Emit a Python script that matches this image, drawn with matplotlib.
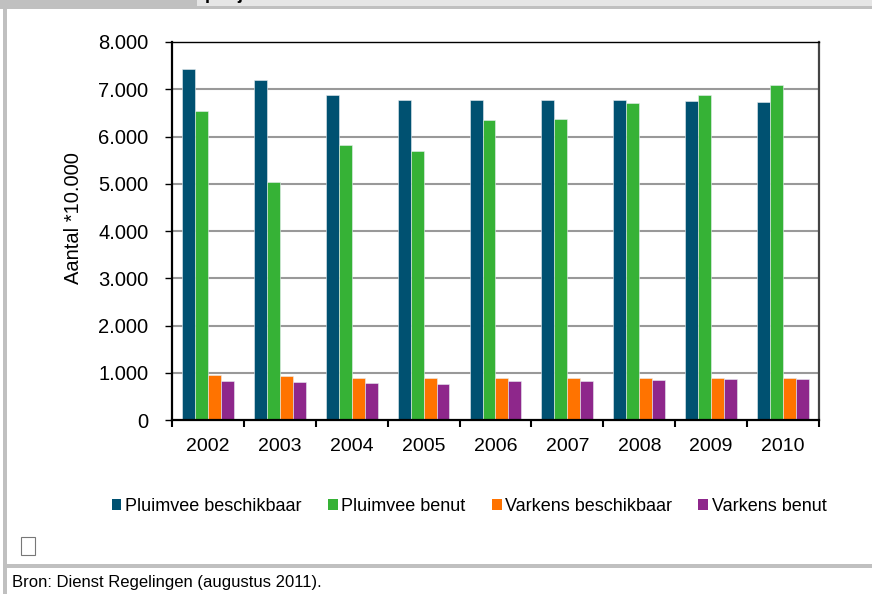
import matplotlib.pyplot as plt
from matplotlib.patches import Patch, Rectangle
import numpy as np

plt.rcParams["font.family"] = ["Liberation Sans", "DejaVu Sans"]

jaren = ["2002", "2003", "2004", "2005", "2006", "2007", "2008", "2009", "2010"]
pluimvee_beschikbaar = [7420, 7200, 6870, 6780, 6780, 6780, 6770, 6750, 6730]
pluimvee_benut = [6530, 5030, 5810, 5690, 6340, 6370, 6710, 6880, 7080]
varkens_beschikbaar = [960, 930, 890, 890, 880, 880, 880, 880, 880]
varkens_benut = [830, 795, 785, 770, 820, 835, 855, 865, 865]

series = [
    ("Pluimvee beschikbaar", pluimvee_beschikbaar, "#005171"),
    ("Pluimvee benut", pluimvee_benut, "#36b236"),
    ("Varkens beschikbaar", varkens_beschikbaar, "#ff7300"),
    ("Varkens benut", varkens_benut, "#8e278b"),
]

fig = plt.figure(figsize=(8.72, 5.94), dpi=100)
ax = fig.add_axes([0.1972, 0.2929, 0.9392 - 0.1972, 0.9293 - 0.2929])

x = np.arange(len(jaren))
w = 0.18
for i, (naam, vals, kleur) in enumerate(series):
    ax.bar(x + (i - 1.5) * w, vals, w, color=kleur, label=naam,
           edgecolor="#e8eef2", linewidth=0.4, zorder=3)

ax.set_xlim(-0.5, len(jaren) - 0.5)
ax.set_ylim(0, 8000)
ax.set_yticks(np.arange(0, 8001, 1000))
ax.set_yticklabels(["0"] + [f"{v // 1000}.000" for v in range(1000, 8001, 1000)])
ax.set_xticks(x)
ax.set_xticklabels(jaren)
ax.set_xticks(np.arange(-0.5, len(jaren), 1), minor=True)

ax.tick_params(axis="x", which="major", length=0, pad=13, labelsize=14)
ax.tick_params(axis="x", which="minor", length=5, width=1.5, direction="out")
ax.tick_params(axis="y", length=5, width=1, direction="out", pad=12, labelsize=14.5)

for y in range(1000, 8000, 1000):
    ax.axhline(y, color="#999999", linewidth=1.5, zorder=1)

ax.spines["left"].set_linewidth(1.6)
ax.spines["bottom"].set_linewidth(1.6)
ax.spines["bottom"].set_zorder(4)
ax.spines["top"].set_linewidth(1.0)
ax.spines["right"].set_linewidth(1.6)
ax.spines["right"].set_color("#444444")

ax.set_ylabel("Aantal *10.000", fontsize=14.5)
ax.yaxis.set_label_coords(-0.138, 0.534)

handles = [Patch(facecolor=k, edgecolor="none") for _, _, k in series]
fig.legend(handles, [s[0] for s in series], loc="center",
           bbox_to_anchor=(0.538, 0.148), ncol=4, frameon=False, fontsize=13,
           handlelength=0.55, handleheight=0.55, handletextpad=0.2,
           columnspacing=1.45)

# omlijsting van het kader
W, H = 872, 594
fig.patches.append(Rectangle((0, 1 - 9 / H), 1, 9 / H, transform=fig.transFigure,
                             facecolor="#c0c0c0", edgecolor="none"))
fig.patches.append(Rectangle((197 / W, 1 - 6 / H), 1, 6 / H, transform=fig.transFigure,
                             facecolor="#e6e6e6", edgecolor="none"))
fig.text(205 / W, 1 + 1 / H, "per jaar", fontsize=13, fontweight="bold",
         va="baseline", ha="left")
fig.patches.append(Rectangle((3 / W, 0), 4 / W, 1 - 9 / H, transform=fig.transFigure,
                             facecolor="#c0c0c0", edgecolor="none"))
fig.patches.append(Rectangle((7 / W, 1 - 568 / H), 1, 4 / H, transform=fig.transFigure,
                             facecolor="#c0c0c0", edgecolor="none"))
fig.patches.append(Rectangle((21 / W, 1 - 555 / H), 14 / W, 18 / H, transform=fig.transFigure,
                             facecolor="white", edgecolor="#777777", linewidth=0.8))

fig.text(12 / W, 1 - 582 / H, "Bron: Dienst Regelingen (augustus 2011).",
         fontsize=12, va="center", ha="left")

fig.savefig("out.png", dpi=100)
